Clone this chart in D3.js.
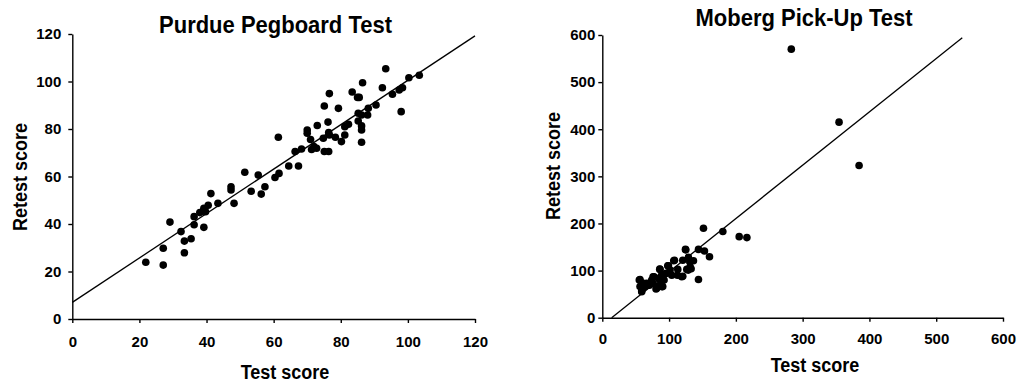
<!DOCTYPE html>
<html><head><meta charset="utf-8">
<script src="https://cdn.jsdelivr.net/npm/d3@7"></script>
<style>body{margin:0;background:#fff;} svg{display:block;} text{font-family:"Liberation Sans",Arial,sans-serif;font-weight:bold;fill:#000;}</style>
</head><body>
<svg id="c" width="1019" height="387"></svg>
<script>
// Purdue Pegboard Test data
const purdueTest = [21.9,27.1,27.1,29.1,32.4,33.4,33.4,35.4,36.3,36.3,38.0,39.2,39.2,39.7,40.5,41.3,43.4,47.3,47.3,48.2,51.4,53.3,55.4,56.3,57.4,60.4,61.6,61.4,64.5,67.4,66.4,68.3,70.0,70.0,71.0,71.3,72.0,72.8,73.0,74.8,75.1,75.1,76.4,76.2,76.6,76.4,76.6,78.4,79.3,80.2,81.2,81.2,82.3,83.4,85.0,85.5,85.2,85.2,86.2,86.2,86.2,86.5,86.2,88.0,88.2,90.5,92.4,93.4,95.4,97.4,98.0,98.4,100.3,103.4];
const purdueRetest = [23.9,29.8,22.7,40.8,36.8,32.8,27.9,33.8,39.7,43.1,44.8,38.6,46.6,45.2,47.9,52.8,48.7,55.7,54.3,48.7,61.8,53.8,60.6,52.6,55.7,59.6,61.3,76.5,64.4,64.4,70.5,71.6,79.6,78.2,75.6,71.4,72.6,71.9,81.5,76.1,89.7,70.5,70.5,82.9,94.9,78.5,77.5,76.5,88.7,74.7,77.5,81.0,82.0,95.6,93.3,93.3,86.6,83.4,81.3,79.6,74.4,99.5,85.9,85.9,88.7,90.1,97.4,105.4,94.6,96.4,87.3,97.4,101.6,102.6];
const purdueFit = [[0,7.0],[120,119.2]];
const purdueTicksX = [0,20,40,60,80,100,120];
const purdueTicksY = [0,20,40,60,80,100,120];

// Moberg Pick-Up Test data
const mobergTest = [283,354.5,384.5,151.5,180.5,205,216.5,124.5,144,153,160.5,144,108,120.5,129,136.5,131.5,126.5,133,98,86.5,113,104,112.5,120.5,95.5,77.5,74,56.5,59,59,64,70.5,81.5,90.5,80.5,87.5,84,92.5,56.5,66.5,75.5,61.5,89,101.5,55.4,59,107,99,86,131,128.7,119,76,81.4,89,125];
const mobergRetest = [570,415,323,190,183,172,170,145,145,141.5,129.5,81,122,122,128,121,108,102.5,104,110,102.5,102.5,90,90,88,94,87,80,81,69,57,66,69,66,66,61,73,83.5,80,66,73,73,73,91,101,80,55,121,110,103,119,101,87,87,62.5,66,144];
const mobergFit = [[14,0],[539,594]];
const mobergTicksX = [0,100,200,300,400,500,600];
const mobergTicksY = [0,100,200,300,400,500,600];

const svg = d3.select("#c");

function panel(o){
  const x = d3.scaleLinear().domain(o.xd).range(o.xr);
  const y = d3.scaleLinear().domain(o.yd).range(o.yr);
  const g = svg.append("g");
  const xa = g.append("g").attr("transform",`translate(0,${o.yr[0]})`)
    .call(d3.axisBottom(x).tickValues(o.tx).tickSize(4).tickPadding(o.xPad).tickSizeOuter(0));
  const ya = g.append("g").attr("transform",`translate(${o.xr[0]},0)`)
    .call(d3.axisLeft(y).tickValues(o.ty).tickSize(4).tickPadding(o.yPad).tickSizeOuter(0));
  [xa,ya].forEach(a=>{
    a.selectAll("path,line").attr("stroke","#000").attr("stroke-width",1.4);
    a.selectAll("text").style("font-size","15px");
  });
  g.append("line").attr("x1",x(o.fit[0][0])).attr("y1",y(o.fit[0][1]))
    .attr("x2",x(o.fit[1][0])).attr("y2",y(o.fit[1][1]))
    .attr("stroke","#000").attr("stroke-width",1.3);
  g.selectAll("circle").data(o.xs).join("circle")
    .attr("cx",(d)=>x(d)).attr("cy",(d,i)=>y(o.ys[i])).attr("r",3.8).attr("fill","#000");
  g.append("text").attr("transform",`translate(${o.titleX},${o.titleY}) scale(1,1.12)`)
    .attr("text-anchor","middle").style("font-size","22px").text(o.title);
  g.append("text").attr("transform",`translate(${o.xTitleX},${o.xTitleY}) scale(1,1.08)`)
    .attr("text-anchor","middle").style("font-size","18px").text("Test score");
  g.append("text").attr("transform",`translate(${o.yTitleX},${o.yTitleY}) rotate(-90) scale(1,1.08)`)
    .attr("text-anchor","middle").style("font-size","18px").text("Retest score");
}

panel({xd:[0,120],yd:[0,120],xr:[72.3,475],yr:[319,34],tx:purdueTicksX,ty:purdueTicksY,xPad:13,yPad:7,
  fit:purdueFit,xs:purdueTest,ys:purdueRetest,title:"Purdue Pegboard Test",titleX:275.5,titleY:33,
  xTitleX:285,xTitleY:379,yTitleX:27,yTitleY:177});
panel({xd:[0,600],yd:[0,600],xr:[602.3,1003],yr:[317.7,35],tx:mobergTicksX,ty:mobergTicksY,xPad:12,yPad:3,
  fit:mobergFit,xs:mobergTest,ys:mobergRetest,title:"Moberg Pick-Up Test",titleX:804,titleY:26,
  xTitleX:815,xTitleY:372,yTitleX:560,yTitleY:166});
</script>
</body></html>
